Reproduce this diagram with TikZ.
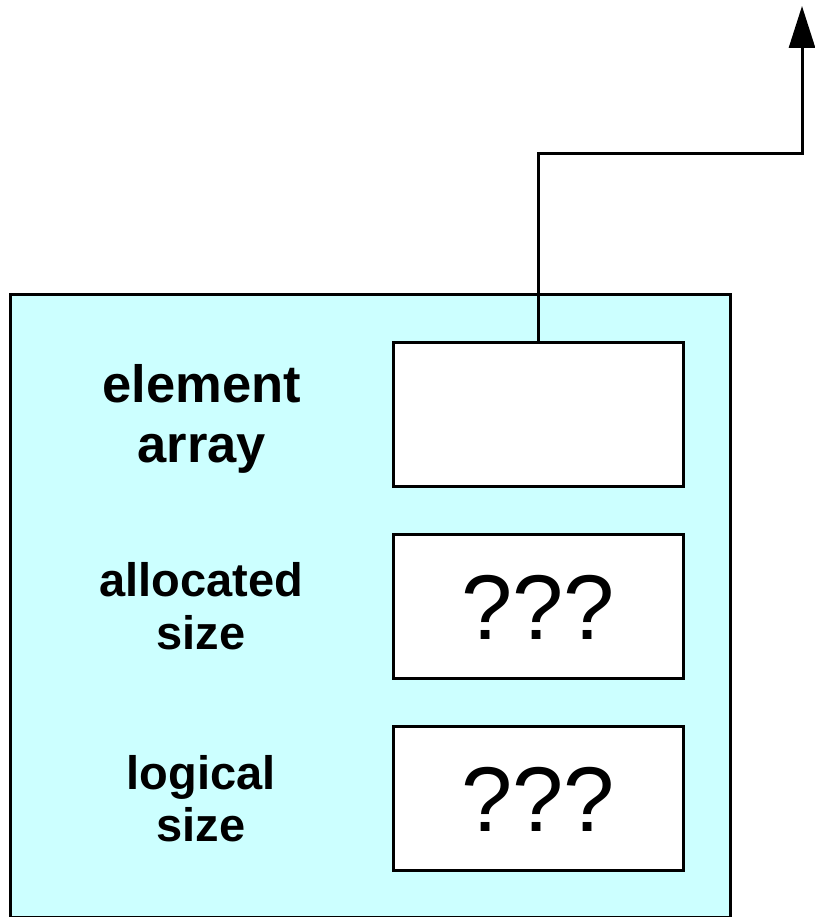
\documentclass[tikz,border=0pt]{standalone}
\usepackage{fontspec}
\setmainfont{Liberation Sans}
\usetikzlibrary{arrows.meta}
\definecolor{recordfill}{RGB}{204,255,255}
\begin{document}
\begin{tikzpicture}[x=1pt,y=-1pt,
  frame/.style={draw=black,line width=3pt,fill=recordfill},
  cell/.style={draw=black,line width=3pt,fill=white,minimum width=290pt,minimum height=144pt,inner sep=0pt},
  biglabel/.style={anchor=base,inner sep=0pt,font=\fontsize{52.5}{60}\selectfont\bfseries},
  label/.style={anchor=base,inner sep=0pt,font=\fontsize{47}{56}\selectfont\bfseries},
  value/.style={anchor=base,inner sep=0pt,font=\fontsize{92}{100}\selectfont},
  link/.style={line width=3pt,-{Triangle[length=42pt,width=26pt]}}]
\useasboundingbox (0,0) rectangle (814,917);
% outer record
\path[frame] (10,294) rectangle (730,917);
% field cells
\node[cell] (arr) at (538,414) {};
\node[cell] (alloc) at (538,606) {};
\node[cell] (logic) at (538,798) {};
% field values
\node[value] (allocv) at (538,639) {???};
\node[value] (logicv) at (538,831) {???};
% field names
\node[biglabel] (arrl1) at (202,402) {element};
\node[biglabel] (arrl2) at (202,462) {array};
\node[label] (allocl1) at (201,596) {allocated};
\node[label] (allocl2) at (201,649) {size};
\node[label] (logicl1) at (201,789) {logical};
\node[label] (logicl2) at (201,841) {size};
% pointer leaving the array cell
\coordinate (tip) at (802,6);
\draw[link] (arr.north) |- (802,154) -- (tip);
\end{tikzpicture}
\end{document}
